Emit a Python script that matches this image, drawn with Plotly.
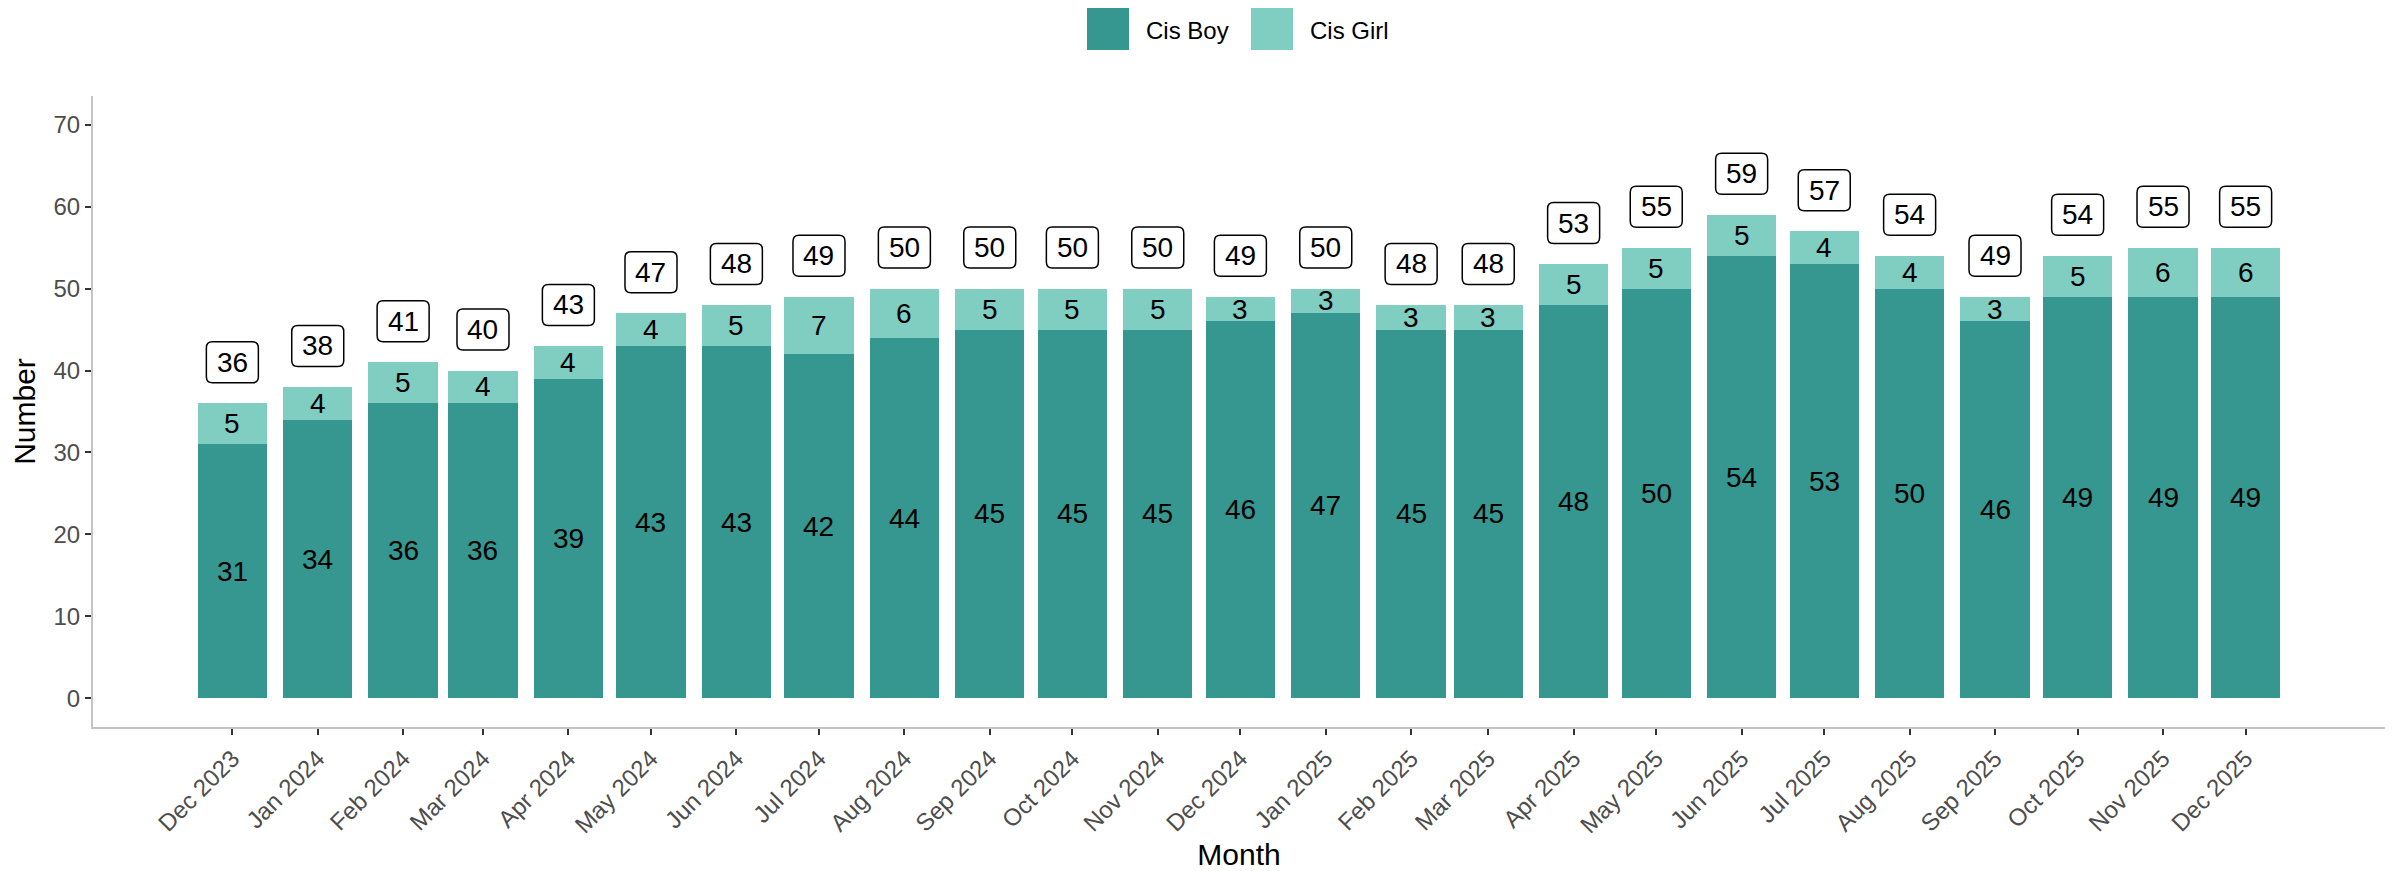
import plotly.graph_objects as go
from datetime import datetime, timedelta

months = ["2023-12-01", "2024-01-01", "2024-02-01", "2024-03-01", "2024-04-01", "2024-05-01",
          "2024-06-01", "2024-07-01", "2024-08-01", "2024-09-01", "2024-10-01", "2024-11-01",
          "2024-12-01", "2025-01-01", "2025-02-01", "2025-03-01", "2025-04-01", "2025-05-01",
          "2025-06-01", "2025-07-01", "2025-08-01", "2025-09-01", "2025-10-01", "2025-11-01",
          "2025-12-01"]
month_labels = ["Dec 2023", "Jan 2024", "Feb 2024", "Mar 2024", "Apr 2024", "May 2024",
                "Jun 2024", "Jul 2024", "Aug 2024", "Sep 2024", "Oct 2024", "Nov 2024",
                "Dec 2024", "Jan 2025", "Feb 2025", "Mar 2025", "Apr 2025", "May 2025",
                "Jun 2025", "Jul 2025", "Aug 2025", "Sep 2025", "Oct 2025", "Nov 2025",
                "Dec 2025"]
cis_boy = [31, 34, 36, 36, 39, 43, 43, 42, 44, 45, 45, 45, 46, 47, 45, 45, 48, 50, 54, 53, 50, 46, 49, 49, 49]
cis_girl = [5, 4, 5, 4, 4, 4, 5, 7, 6, 5, 5, 5, 3, 3, 3, 3, 5, 5, 5, 4, 4, 3, 5, 6, 6]
series_names = ["Cis Boy", "Cis Girl"]
series_colors = ["#35978f", "#80cdc1"]

totals = [b + g for b, g in zip(cis_boy, cis_girl)]

FONT = "Liberation Sans, Arial, sans-serif"
OFF = 8  # default page body margin
W, H = 2400 - OFF, 871 - OFF
L, R, T, B = 93 - OFF, 15, 96 - OFF, 144
PW, PH = W - L - R, H - T - B

day_ms = 86400000
bar_w = 25.2 * day_ms

fig = go.Figure()
fig.add_trace(go.Bar(x=months, y=cis_boy, name=series_names[0], width=bar_w,
                     marker=dict(color=series_colors[0], line=dict(width=0)), showlegend=False))
fig.add_trace(go.Bar(x=months, y=cis_girl, name=series_names[1], width=bar_w,
                     marker=dict(color=series_colors[1], line=dict(width=0)), showlegend=False))

# rounded label box (pixel path, anchored at data point)
bw, bh, rr = 26, 20.5, 6
box_path = (f"M {-bw+rr},{-bh} L {bw-rr},{-bh} Q {bw},{-bh} {bw},{-bh+rr} "
            f"L {bw},{bh-rr} Q {bw},{bh} {bw-rr},{bh} L {-bw+rr},{bh} "
            f"Q {-bw},{bh} {-bw},{bh-rr} L {-bw},{-bh+rr} Q {-bw},{-bh} {-bw+rr},{-bh} Z")

ann = []
shapes = []
for m, b, g, t in zip(months, cis_boy, cis_girl, totals):
    ann.append(dict(x=m, y=b / 2, text=str(b), showarrow=False,
                    font=dict(family=FONT, size=28, color="black")))
    ann.append(dict(x=m, y=b + g / 2, text=str(g), showarrow=False,
                    font=dict(family=FONT, size=28, color="black")))
    shapes.append(dict(type="path", xref="x", yref="y", xsizemode="pixel", ysizemode="pixel",
                       xanchor=m, yanchor=t + 5, path=box_path,
                       fillcolor="white", line=dict(color="black", width=1.5), layer="above"))
    ann.append(dict(x=m, y=t + 5, text=str(t), showarrow=False,
                    font=dict(family=FONT, size=28, color="black")))

def px_x(p):
    return (p - OFF - L) / PW

def px_y(p):
    return (H - B - (p - OFF)) / PH

legend_keys = [(1087, 1129), (1251, 1293)]
legend_text_x = [1144, 1308]
for (x0, x1), col, name, tx in zip(legend_keys, series_colors, series_names, legend_text_x):
    shapes.append(dict(type="rect", xref="paper", yref="paper",
                       x0=px_x(x0), x1=px_x(x1), y0=px_y(50), y1=px_y(7),
                       fillcolor=col, line=dict(width=0)))
    ann.append(dict(xref="paper", yref="paper", x=px_x(tx), y=px_y(30), text=name,
                    xanchor="left", yanchor="middle", showarrow=False,
                    font=dict(family=FONT, size=24, color="black")))

d0 = datetime(2023, 12, 1) - timedelta(days=50.6)
d1 = datetime(2025, 12, 1) + timedelta(days=50.6)

fig.update_layout(
    barmode="stack",
    width=W, height=H,
    margin=dict(l=L, r=R, t=T, b=B, autoexpand=False),
    plot_bgcolor="white", paper_bgcolor="white",
    font=dict(family=FONT),
    annotations=ann,
    shapes=shapes,
    showlegend=False,
    xaxis=dict(
        type="date", range=[d0, d1],
        tickvals=months, ticktext=month_labels, tickangle=-45,
        tickfont=dict(family=FONT, size=24, color="#4d4d4d"),
        ticks="outside", ticklen=6, tickwidth=2, tickcolor="#333333",
        showline=True, linecolor="#c4c4c4", linewidth=2, showgrid=False, zeroline=False,
        automargin=False,
        title=dict(text="Month", font=dict(family=FONT, size=30, color="black"), standoff=8),
    ),
    yaxis=dict(
        range=[-3.5, 73.5],
        tickvals=[0, 10, 20, 30, 40, 50, 60, 70],
        tickfont=dict(family=FONT, size=24, color="#4d4d4d"),
        ticks="outside", ticklen=6, tickwidth=2, tickcolor="#333333",
        showline=True, linecolor="#c4c4c4", linewidth=2, showgrid=False, zeroline=False,
        automargin=False,
        title=dict(text="Number", font=dict(family=FONT, size=30, color="black"), standoff=12),
    ),
)

fig.write_html("out.html")
